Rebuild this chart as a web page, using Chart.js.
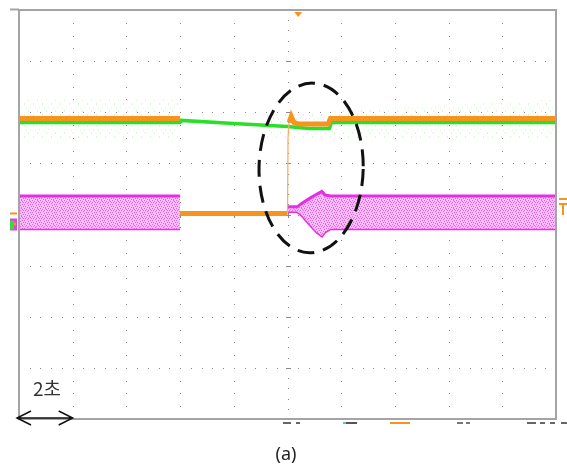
<!DOCTYPE html>
<html>
<head>
<meta charset="utf-8">
<script src="https://cdn.jsdelivr.net/npm/chart.js@4.4.0/dist/chart.umd.min.js"></script>
<style>
  html, body { margin: 0; padding: 0; background: #fff; }
  #scope { display: block; }
</style>
</head>
<body>
<canvas id="scope" width="567" height="468"></canvas>
<script>
// time in divisions (2 s / div), level in divisions (0 = centre line)
const orangeTime = [0, 3.0, 3.0, 3.0, 5.0, 5.01, 5.03, 5.07, 5.12, 5.2, 5.76, 5.8, 10];
const orangeVolt = [1.88, 1.88, null, 0.02, 0.02, 1.5, 1.8, 1.92, 1.8, 1.77, 1.77, 1.88, 1.88];

const greenTime = [0, 3.0, 3.02, 4.0, 5.0, 5.4, 5.78, 5.82, 10];
const greenVolt = [1.80, 1.80, 1.84, 1.78, 1.72, 1.68, 1.68, 1.80, 1.80];

const noiseTime = [0, 3.0, 3.0, 4.6, 10];
const noiseTop = [2.25, 2.25, null, 1.95, 2.25];
const noiseBottom = [1.45, 1.45, null, 1.5, 1.45];

const magentaTime = [0, 3.0, 3.0, 4.99, 5.18, 5.27, 5.42, 5.55, 5.64, 5.7, 5.8, 10];
const magentaUpper = [0.36, 0.36, null, 0.15, 0.15, 0.22, 0.32, 0.40, 0.45, 0.38, 0.36, 0.36];
const magentaLower = [-0.28, -0.28, null, 0.06, 0.06, -0.02, -0.2, -0.35, -0.42, -0.34, -0.28, -0.28];

const triggerTime = 5.2;
const ellipseCenter = [5.44, 0.91];
const ellipseRadius = [0.97, 1.66];
const scaleLabel = '2초';
const caption = '(a)';

function pts(xs, ys) {
    return xs.map((x, i) => ({ x: x, y: ys[i] }));
}

function speckle(base, dot, w, h, cells) {
    const c = document.createElement('canvas');
    c.width = w; c.height = h;
    const g = c.getContext('2d');
    if (base) { g.fillStyle = base; g.fillRect(0, 0, w, h); }
    g.fillStyle = dot;
    cells.forEach(p => g.fillRect(p[0], p[1], 1, 1));
    return g.createPattern(c, 'repeat');
}

const pinkFill = speckle('#f6bcf6', '#e964e9', 8, 8,
    [[0, 0], [5, 0], [2, 1], [7, 2], [3, 3], [0, 4], [6, 4], [4, 5], [1, 6], [7, 6], [3, 7], [5, 7],
     [1, 2], [6, 1], [4, 2]]);
const greenFuzz = speckle(null, 'rgba(80,215,80,0.22)', 9, 11,
    [[1, 0], [1, 1], [6, 4], [6, 5], [3, 8], [8, 9]]);

function steep(ctx) {
    const dx = ctx.p1.parsed.x - ctx.p0.parsed.x;
    const dy = ctx.p1.parsed.y - ctx.p0.parsed.y;
    return Math.abs(dy) > 8 * Math.abs(dx);
}

const scopeDecor = {
    id: 'scopeDecor',
    beforeDatasetsDraw(chart) {
        const { ctx, scales: { x, y } } = chart;
        ctx.save();
        ctx.fillStyle = '#888';
        for (let i = 1; i < 10; i++) {
            const px = Math.round(x.getPixelForValue(i));
            const step = i === 5 ? 0.2 : 0.25;
            for (let v = -4; v <= 4.001; v += step) {
                ctx.fillRect(px, Math.round(y.getPixelForValue(v)), 1, 1);
            }
        }
        for (let j = -3; j <= 3; j++) {
            const py = Math.round(y.getPixelForValue(j));
            for (let u = 0; u <= 10.001; u += 0.2) {
                ctx.fillRect(Math.round(x.getPixelForValue(u)), py, 1, 1);
            }
        }
        // little ticks on the centre lines
        const cy = Math.round(y.getPixelForValue(0));
        const cx = Math.round(x.getPixelForValue(5));
        for (let i = 1; i < 10; i++) ctx.fillRect(Math.round(x.getPixelForValue(i)), cy - 2, 1, 5);
        for (let j = -3; j <= 3; j++) ctx.fillRect(cx - 2, Math.round(y.getPixelForValue(j)), 5, 1);
        ctx.restore();
    },
    afterDatasetsDraw(chart) {
        const { ctx, chartArea: a, scales: { x, y } } = chart;
        ctx.save();

        // frame
        ctx.strokeStyle = '#a4a4a4';
        ctx.lineWidth = 2;
        ctx.strokeRect(a.left, a.top, a.right - a.left, a.bottom - a.top);
        ctx.beginPath();
        ctx.moveTo(a.left - 9, a.top - 0.5);
        ctx.lineTo(a.left, a.top - 0.5);
        ctx.stroke();

        // dashed ellipse
        ctx.strokeStyle = '#111';
        ctx.lineWidth = 3;
        ctx.setLineDash([17, 9]);
        ctx.beginPath();
        const ex = x.getPixelForValue(ellipseCenter[0]);
        const ey = y.getPixelForValue(ellipseCenter[1]);
        const rx = x.getPixelForValue(ellipseCenter[0] + ellipseRadius[0]) - ex;
        const ry = ey - y.getPixelForValue(ellipseCenter[1] + ellipseRadius[1]);
        ctx.ellipse(ex, ey, rx, ry, 0.02, 0, Math.PI * 2);
        ctx.stroke();
        ctx.setLineDash([]);

        // trigger marker on top
        const tx = x.getPixelForValue(triggerTime);
        ctx.fillStyle = '#f7941d';
        ctx.beginPath();
        ctx.moveTo(tx - 4, a.top + 2);
        ctx.lineTo(tx + 4, a.top + 2);
        ctx.lineTo(tx, a.top + 7);
        ctx.closePath();
        ctx.fill();

        // channel ground markers on the left
        const gy = y.getPixelForValue(0.02);
        ctx.fillRect(10, gy - 1, 7, 2);
        ctx.fillStyle = '#e33fe3';
        ctx.fillRect(10, gy + 5, 7, 12);
        ctx.fillStyle = '#3ad83a';
        ctx.fillRect(10, gy + 7, 4, 9);
        ctx.fillStyle = '#f7941d';
        ctx.fillRect(14, gy + 9, 2, 3);

        // trigger level marker on the right
        ctx.fillStyle = '#f7941d';
        ctx.fillRect(559, 198, 8, 2);
        ctx.fillRect(559, 203, 8, 2);
        ctx.fillRect(562, 203, 2, 12);

        // clipped status line below the frame
        const bits = [[283, 8, '#666'], [296, 4, '#666'], [343, 3, '#4cc'], [346, 11, '#555'],
                      [390, 20, '#f7941d'], [457, 6, '#777'], [466, 4, '#777'],
                      [527, 9, '#666'], [540, 5, '#666'], [550, 5, '#666'], [561, 6, '#666']];
        bits.forEach(b => { ctx.fillStyle = b[2]; ctx.fillRect(b[0], 422, b[1], 2); });

        // 2 s scale arrow
        const x0 = x.getPixelForValue(0) - 2;
        const x1 = x.getPixelForValue(1);
        const ay = a.bottom - 1;
        ctx.strokeStyle = '#111';
        ctx.lineWidth = 1.5;
        ctx.beginPath();
        ctx.moveTo(x0, ay); ctx.lineTo(x1, ay);
        ctx.moveTo(x0 + 14, ay - 7); ctx.lineTo(x0, ay); ctx.lineTo(x0 + 14, ay + 7);
        ctx.moveTo(x1 - 14, ay - 7); ctx.lineTo(x1, ay); ctx.lineTo(x1 - 14, ay + 7);
        ctx.stroke();

        ctx.fillStyle = '#333';
        ctx.font = '19px "Noto Sans CJK KR", sans-serif';
        ctx.textAlign = 'left';
        ctx.textBaseline = 'alphabetic';
        ctx.fillText(scaleLabel, 33, 396);

        ctx.fillStyle = '#222';
        ctx.font = '18px "Noto Sans", sans-serif';
        ctx.textAlign = 'center';
        ctx.textBaseline = 'middle';
        ctx.fillText(caption, 286, 455);
        ctx.restore();
    }
};

new Chart(document.getElementById('scope').getContext('2d'), {
    type: 'line',
    data: {
        datasets: [
            {
                label: 'orange',
                data: pts(orangeTime, orangeVolt),
                borderColor: '#f7941d',
                borderWidth: 5,
                order: 1,
                segment: {
                    borderWidth: ctx => steep(ctx) ? 1.3 : 5,
                    borderColor: ctx => steep(ctx) ? '#f6b066' : '#f7941d',
                },
            },
            {
                label: 'green',
                data: pts(greenTime, greenVolt),
                borderColor: '#27e027',
                borderWidth: 3.5,
                order: 2,
            },
            {
                label: 'green noise top',
                data: pts(noiseTime, noiseTop),
                borderWidth: 0,
                backgroundColor: greenFuzz,
                fill: 3,
                order: 3,
            },
            {
                label: 'green noise bottom',
                data: pts(noiseTime, noiseBottom),
                borderWidth: 0,
                order: 4,
            },
            {
                label: 'magenta upper',
                data: pts(magentaTime, magentaUpper),
                borderColor: '#e52ee5',
                borderWidth: 3,
                backgroundColor: pinkFill,
                fill: 5,
                order: 5,
            },
            {
                label: 'magenta lower',
                data: pts(magentaTime, magentaLower),
                borderColor: '#e52ee5',
                borderWidth: 3,
                order: 6,
            },
        ],
    },
    options: {
        responsive: false,
        animation: false,
        events: [],
        layout: { padding: { left: 19, top: 10, right: 11, bottom: 49 } },
        elements: { point: { radius: 0 }, line: { tension: 0 } },
        plugins: { legend: { display: false }, tooltip: { enabled: false } },
        scales: {
            x: { type: 'linear', min: 0, max: 10, display: false },
            y: { type: 'linear', min: -4, max: 4, display: false },
        },
    },
    plugins: [scopeDecor],
});
</script>
</body>
</html>
